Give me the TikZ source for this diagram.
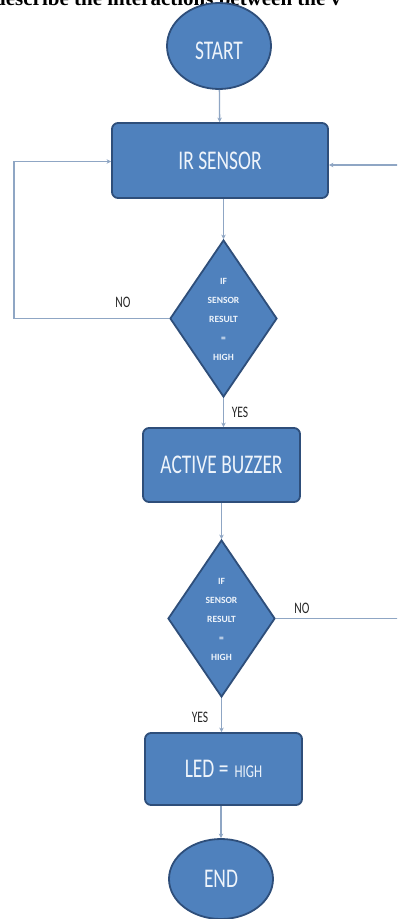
\documentclass[tikz,border=0pt]{standalone}
\usepackage{fontspec}
\setmainfont{Carlito}
\newfontfamily\serifbold{Liberation Serif}
\usetikzlibrary{shapes.geometric,arrows.meta}
\definecolor{boxfill}{HTML}{4F81BD}
\definecolor{boxline}{HTML}{2E4E7A}
\definecolor{boxtext}{HTML}{EEF4FB}
\definecolor{conn}{HTML}{8FA6C4}
\newcommand{\nar}[1]{\scalebox{0.72}[1]{#1}}
\begin{document}
\begin{tikzpicture}[x=1pt,y=-1pt,
  shapebase/.style={draw=boxline, fill=boxfill, line width=1.8pt, text=boxtext, inner sep=0pt},
  term/.style={shapebase, ellipse, minimum width=104pt, minimum height=86pt, font=\fontsize{27}{30}\selectfont},
  proc/.style={shapebase, rectangle, rounded corners=6pt, font=\fontsize{27}{30}\selectfont},
  decis/.style={shapebase, diamond, minimum width=107pt, minimum height=157pt},
  dtext/.style={text=boxtext, align=center, font=\bfseries\fontsize{9.5}{19}\selectfont, inner sep=0pt},
  lbl/.style={text=black!85, font=\fontsize{16}{18}\selectfont, inner sep=0pt},
  arr/.style={draw=conn, line width=1.3pt, -{Stealth[length=4.5pt,width=4.5pt]}},
  ln/.style={draw=conn, line width=1.3pt}
]
\clip (0,0) rectangle (397,919);
\fill[white] (0,0) rectangle (397,919);

% cut-off text line at the very top
\node[anchor=base west, inner sep=0pt, font=\serifbold\bfseries\fontsize{21}{24}\selectfont] (toptext) at (-6,5) {describe the interactions between the v};

\node[term] (start) at (219,46) {};
\node[text=boxtext, font=\fontsize{27}{30}\selectfont, inner sep=0pt] (startt) at (219,51) {\nar{START}};
\node[proc, minimum width=216pt, minimum height=75pt] (ir) at (220,160.5) {\nar{IR SENSOR}};
\node[decis] (d1) at (223.5,318.5) {};
\node[dtext] (d1t) at (223.5,319) {IF\\SENSOR\\RESULT\\=\\HIGH};
\node[proc, minimum width=157pt, minimum height=74pt] (buzz) at (221.5,465) {\nar{ACTIVE BUZZER}};
\node[decis] (d2) at (221.5,618.5) {};
\node[dtext] (d2t) at (221.5,619) {IF\\SENSOR\\RESULT\\=\\HIGH};
\node[proc, minimum width=157pt, minimum height=72pt] (led) at (223.5,769) {\nar{LED =} {\fontsize{18}{20}\selectfont\nar{HIGH}}};
\node[term, minimum height=80pt] (end) at (221,879) {\nar{END}};

\coordinate (L) at (14,161.5);
\coordinate (R) at (402,165);

\draw[arr] (start) -- (ir);
\draw[arr] (ir.south -| d1.north) -- (d1.north);
\draw[arr] (d1.west) -| (L) -- (ir.west |- L);
\draw[arr] (d1.south) -- (buzz.north -| d1.south);
\draw[arr] (buzz) -- (d2);
\draw[arr] (d2.east) -| (R) -- (ir.east |- R);
\draw[arr] (d2.south) -- (led.north -| d2.south);
\draw[arr] (led.south -| end.north) -- (end.north);

\node[lbl] (no1) at (123,302) {\nar{NO}};
\node[lbl] (yes1) at (240,412) {\nar{YES}};
\node[lbl] (no2) at (302,608) {\nar{NO}};
\node[lbl] (yes2) at (200,717) {\nar{YES}};
\end{tikzpicture}
\end{document}
